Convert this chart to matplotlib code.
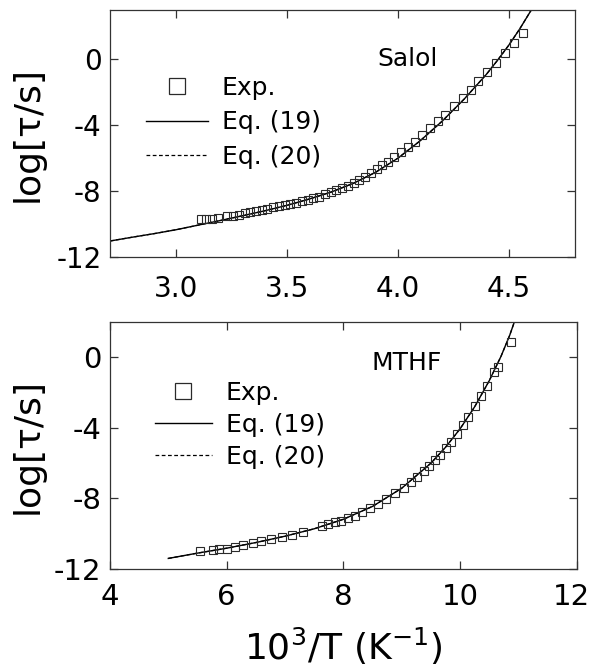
import matplotlib
matplotlib.use("Agg")
import matplotlib.pyplot as plt
from matplotlib.lines import Line2D
from matplotlib.transforms import ScaledTranslation

# ---------------- data ----------------
salol_x = [3.112, 3.135, 3.161, 3.187, 3.230, 3.256, 3.282, 3.308, 3.334, 3.359,
           3.385, 3.411, 3.437, 3.463, 3.489, 3.515, 3.541, 3.567, 3.593, 3.619,
           3.645, 3.670, 3.696, 3.722, 3.748, 3.774, 3.800, 3.826, 3.852, 3.878,
           3.904, 3.930, 3.956, 3.982, 4.016, 4.047, 4.077, 4.111, 4.146, 4.180,
           4.211, 4.253, 4.293, 4.331, 4.362, 4.401, 4.443, 4.483, 4.526, 4.566]
salol_y = [-9.72, -9.70, -9.68, -9.64, -9.54, -9.48, -9.42, -9.35, -9.29, -9.23,
           -9.17, -9.09, -8.99, -8.93, -8.85, -8.77, -8.69, -8.61, -8.53, -8.43,
           -8.33, -8.19, -8.08, -7.96, -7.82, -7.68, -7.52, -7.32, -7.12, -6.92,
           -6.67, -6.41, -6.21, -5.91, -5.60, -5.30, -5.00, -4.60, -4.15, -3.73,
           -3.35, -2.84, -2.34, -1.83, -1.31, -0.77, -0.22, 0.38, 0.99, 1.61]
salol_fit_x = [2.70, 2.80, 2.90, 3.00, 3.10, 3.20, 3.30, 3.40, 3.50, 3.60, 3.70,
               3.80, 3.90, 4.00, 4.10, 4.20, 4.30, 4.40, 4.45, 4.50, 4.55, 4.60, 4.62]
salol_fit_y = [-11.03, -10.80, -10.58, -10.34, -10.06, -9.78, -9.49, -9.19, -8.86,
               -8.48, -8.05, -7.52, -6.85, -6.00, -4.95, -3.75, -2.40, -0.90, -0.05,
               0.85, 1.85, 2.95, 3.45]

mthf_x = [5.549, 5.765, 5.876, 6.007, 6.137, 6.281, 6.444, 6.595, 6.758, 6.941,
          7.118, 7.314, 7.627, 7.739, 7.850, 7.967, 8.078, 8.196, 8.327, 8.458,
          8.588, 8.739, 8.882, 9.046, 9.157, 9.261, 9.373, 9.471, 9.569, 9.654,
          9.752, 9.850, 9.948, 10.046, 10.144, 10.255, 10.353, 10.464, 10.582,
          10.647, 10.876]
mthf_y = [-11.00, -10.90, -10.85, -10.85, -10.75, -10.66, -10.55, -10.43, -10.30,
          -10.19, -10.06, -9.91, -9.57, -9.45, -9.36, -9.25, -9.12, -8.97, -8.76,
          -8.55, -8.31, -8.05, -7.71, -7.39, -7.05, -6.77, -6.45, -6.15, -5.83,
          -5.51, -5.13, -4.79, -4.32, -3.85, -3.38, -2.78, -2.20, -1.60, -0.85,
          -0.53, 0.88]
mthf_fit_x = [5.0, 5.5, 6.0, 6.5, 7.0, 7.5, 8.0, 8.5, 9.0, 9.5, 9.75, 10.0, 10.25,
              10.5, 10.7, 10.85, 10.95]
mthf_fit_y = [-11.40, -11.10, -10.82, -10.50, -10.14, -9.72, -9.18, -8.45, -7.42,
              -6.00, -5.10, -4.05, -2.80, -1.32, 0.05, 1.25, 2.20]

salol_xticks = [3.0, 3.5, 4.0, 4.5]
salol_xticklabels = ["3.0", "3.5", "4.0", "4.5"]
mthf_xticks = [4, 6, 8, 10, 12]
yticks = [-12, -8, -4, 0]
legend_labels = ["Exp.", "Eq. (19)", "Eq. (20)"]

# ---------------- figure ----------------
plt.rcParams['font.family'] = ['DejaVu Sans']
plt.rcParams['mathtext.fontset'] = 'dejavusans'

fig = plt.figure(figsize=(5.91, 6.71), dpi=100)
ax1 = fig.add_axes([0.186, 0.617, 0.787, 0.368])
ax2 = fig.add_axes([0.186, 0.152, 0.790, 0.368])

edge = '#2a2a2a'


def style(ax):
    for s in ax.spines.values():
        s.set_linewidth(0.9)
        s.set_color('#333333')
    ax.tick_params(direction='in', length=6, width=0.9, top=True, right=True,
                   labelsize=20, pad=6, colors='#333333', labelcolor='black')
    ax.set_yticks(yticks)
    ax.set_yticklabels([str(v) for v in yticks])
    ax.set_ylabel('log[τ/s]', fontsize=26)


def draw(ax, fx, fy, dx, dy):
    ax.plot(fx, fy, color='black', lw=0.9, ls=(0, (3, 2)))
    ax.plot(fx, fy, color='black', lw=1.0)
    ax.plot(dx, dy, ls='none', marker='s', ms=5.8, mfc='none', mec=edge, mew=0.8)


handles = [
    Line2D([], [], ls='none', marker='s', ms=12, mfc='white', mec=edge, mew=0.9),
    Line2D([], [], color='black', lw=1.0),
    Line2D([], [], color='black', lw=0.9, ls=(0, (3, 2))),
]

# top panel: Salol
draw(ax1, salol_fit_x, salol_fit_y, salol_x, salol_y)
ax1.set_xlim(2.7, 4.8)
ax1.set_ylim(-12, 3)
ax1.set_xticks(salol_xticks)
ax1.set_xticklabels(salol_xticklabels)
style(ax1)
ax1.tick_params(axis='x', pad=13)
ax1.yaxis.set_label_coords(-0.14, 0.5)
ax1.text(4.045, 0.05, 'Salol', fontsize=18, ha='center', va='center')
ax1.legend(handles, legend_labels, loc='upper left', bbox_to_anchor=(0.077, 0.733),
           frameon=False, fontsize=18, handlelength=2.5, handletextpad=0.55,
           labelspacing=0.42, borderpad=0, borderaxespad=0)

# bottom panel: MTHF
draw(ax2, mthf_fit_x, mthf_fit_y, mthf_x, mthf_y)
ax2.set_xlim(4, 12)
ax2.set_ylim(-12, 2)
ax2.set_xticks(mthf_xticks)
ax2.set_xticklabels([str(v) for v in mthf_xticks])
style(ax2)
ax2.tick_params(axis='x', pad=10, labelsize=21)
ax2.tick_params(axis='y', labelsize=21)
ax2.yaxis.set_label_coords(-0.14, 0.5)
ax2.set_xlabel('10$^3$/T (K$^{-1}$)', fontsize=26, labelpad=11)
ax2.text(9.08, -0.34, 'MTHF', fontsize=18, ha='center', va='center')
ax2.legend(handles, legend_labels, loc='upper left', bbox_to_anchor=(0.096, 0.762),
           frameon=False, fontsize=18, handlelength=2.3, handletextpad=0.55,
           labelspacing=0.32, borderpad=0, borderaxespad=0)

# keep the last tick label ("12") inside the canvas
last = ax2.get_xticklabels()[-1]
last.set_transform(last.get_transform() + ScaledTranslation(-5 / 100, 0, fig.dpi_scale_trans))

fig.savefig('out.png', dpi=100)
